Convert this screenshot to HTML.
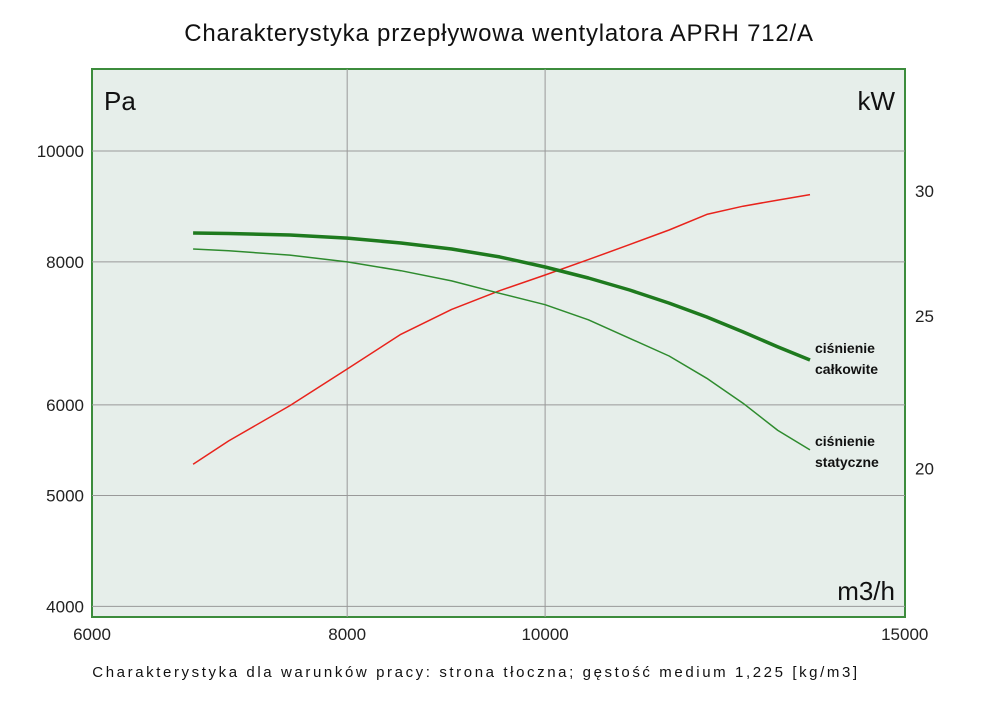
<!DOCTYPE html>
<html><head><meta charset="utf-8"><style>
body{margin:0;background:#fff;}
svg{display:block;font-family:"Liberation Sans",sans-serif;}
</style></head><body>
<svg id="c" width="1000" height="706"></svg>
<script>
const xTicks=[6000,8000,10000,15000];
const yTicks=[4000,5000,6000,8000,10000];
const kwTicks=[20,25,30];
const flow=[6724,7000,7500,8000,8500,9000,9500,10000,10500,11000,11500,12000,12500,13000,13480];
const totalP=[8479,8471,8445,8393,8310,8211,8081,7918,7745,7560,7364,7161,6949,6742,6567];
const staticP=[8210,8180,8110,8000,7860,7700,7510,7340,7120,6860,6620,6330,6020,5700,5480];
const power=[20.1,20.8,21.9,23.1,24.3,25.2,25.9,26.5,27.1,27.7,28.3,28.95,29.3,29.56,29.8];
const X=v=>92+887*Math.log(v/6000);
const Y=v=>151+497*Math.log(10000/v);
const K=v=>190+685*Math.log(30/v);
const NS="http://www.w3.org/2000/svg";
const svg=document.getElementById('c');
function el(t,a,txt){const e=document.createElementNS(NS,t);for(const k in a)e.setAttribute(k,a[k]);if(txt!==undefined)e.textContent=txt;svg.appendChild(e);return e;}
let e;
e=el('rect',{x:92,y:69,width:813,height:548,fill:'#e6eeea',stroke:'#3c8c3c','stroke-width':2});


xTicks.slice(1,3).forEach(v=>{e=el('line',{x1:X(v),x2:X(v),y1:69,y2:617,stroke:'#999','stroke-width':1});

});
yTicks.forEach(v=>{e=el('line',{x1:92,x2:905,y1:Y(v),y2:Y(v),stroke:'#999','stroke-width':1});


e=el('text',{x:84,y:Y(v)+6,'text-anchor':'end','font-size':17,fill:'#222'},String(v));

});
xTicks.forEach(v=>{e=el('text',{x:X(v),y:640,'text-anchor':'middle','font-size':17,fill:'#222'},String(v));

});
kwTicks.forEach(v=>{e=el('text',{x:915,y:K(v)+7,'font-size':17,fill:'#222'},String(v));

});
function line(xs,ys,fy,col,w,name){const d=xs.map((x,i)=>(i?'L':'M')+X(x).toFixed(1)+','+fy(ys[i]).toFixed(1)).join('');
const p=el('path',{d:d,fill:'none',stroke:col,'stroke-width':w,'stroke-linejoin':'round'});

}
line(flow,power,K,'#e8231c',1.5,'power-curve');
line(flow,staticP,Y,'#2e8b2e',1.5,'static-pressure-curve');
line(flow,totalP,Y,'#1e7a1e',3.5,'total-pressure-curve');
const texts=[['Pa',104,110,26,'start','unit-pa',0],['kW',895,110,26,'end','unit-kw',0],['m3/h',895,600,26,'end','unit-flow',0],
['ciśnienie',815,353,14,'start','label-total-1',0],['całkowite',815,374,14,'start','label-total-2',0],
['ciśnienie',815,446,14,'start','label-static-1',0],['statyczne',815,467,14,'start','label-static-2',0],
['Charakterystyka przepływowa wentylatora APRH 712/A',499,41,24,'middle','chart-title',0.8],
['Charakterystyka dla warunków pracy: strona tłoczna; gęstość medium 1,225 [kg/m3]',476,677,15,'middle','chart-caption',2.6]];
texts.forEach(t=>{e=el('text',{x:t[1],y:t[2],'font-size':t[3],'text-anchor':t[4],fill:'#111','font-weight':t[3]==14?'bold':'normal','letter-spacing':t[6]},t[0]);

});
</script>
</body></html>
